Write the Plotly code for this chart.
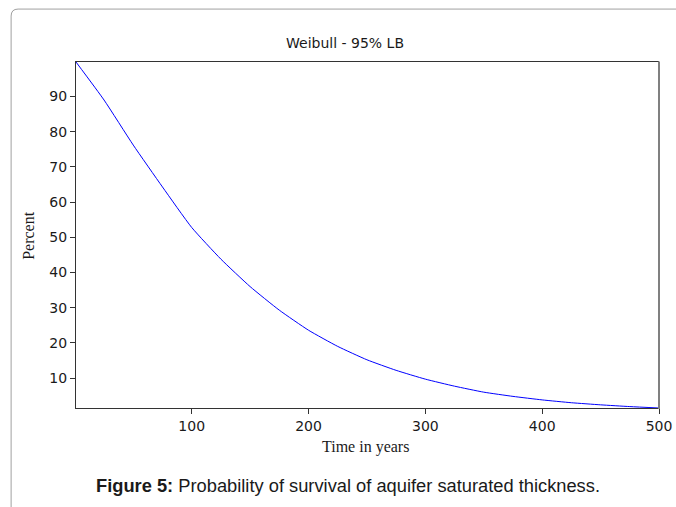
import plotly.graph_objects as go

# Data
years = [1, 25, 50, 75, 100, 125, 150, 175, 200, 225, 250, 275, 300,
         325, 350, 375, 400, 425, 450, 475, 500]
percent = [99.8, 89.0, 76.2, 64.3, 52.8, 43.8, 36.0, 29.3, 23.6, 19.0, 15.2,
           12.2, 9.7, 7.7, 6.0, 4.8, 3.8, 3.0, 2.4, 1.9, 1.5]
y_ticks = [10, 20, 30, 40, 50, 60, 70, 80, 90]
x_ticks = [100, 200, 300, 400, 500]

W, H = 676, 507
L, R, T, B = 75.5, 659.5, 61.5, 408.0
pw, ph = R - L, B - T


def px(x):
    return (x - L) / pw


def py(y):
    return (B - y) / ph


fig = go.Figure()
fig.add_trace(go.Scatter(
    x=years, y=percent, mode="lines",
    line=dict(color="#0000ff", width=1, shape="spline", smoothing=0.5),
    hoverinfo="skip", showlegend=False,
))

tick_font = dict(family="DejaVu Sans", size=14, color="#1a1a1a")

fig.update_layout(
    width=W, height=H,
    margin=dict(l=L, r=W - R, t=T, b=H - B, pad=0, autoexpand=False),
    paper_bgcolor="white", plot_bgcolor="white",
    showlegend=False,
    xaxis=dict(
        range=[1, 500], tickvals=x_ticks, ticktext=[str(v) for v in x_ticks],
        showgrid=False, zeroline=False, showline=True, linecolor="#333333",
        linewidth=1, mirror=True, ticks="outside", ticklen=5, tickcolor="#333333",
        tickfont=tick_font, automargin=False,
    ),
    yaxis=dict(
        range=[1.5, 99.8], tickvals=y_ticks, ticktext=[str(v) for v in y_ticks],
        showgrid=False, zeroline=False, showline=True, linecolor="#333333",
        linewidth=1, mirror=False, ticks="outside", ticklen=5, tickcolor="#333333",
        tickfont=tick_font, automargin=False,
    ),
)

# right border (gray, thicker)
fig.add_shape(type="line", xref="paper", yref="paper", x0=1, x1=1,
              y0=py(B + 1), y1=py(T - 0.5), line=dict(color="#808080", width=2))

# outer rounded frame (left & top edges)
fx, fy, rr = 10.5, 8.5, 7
path = (f"M {px(fx)},{py(H + 5)} L {px(fx)},{py(fy + rr)} "
        f"Q {px(fx)},{py(fy)} {px(fx + rr)},{py(fy)} L {px(W + 5)},{py(fy)}")
fig.add_shape(type="path", xref="paper", yref="paper", path=path,
              line=dict(color="#a0a0a0", width=1))

# title
fig.add_annotation(text="Weibull - 95% LB", xref="paper", yref="paper",
                   x=px(345), y=py(42), xanchor="center", yanchor="middle",
                   showarrow=False,
                   font=dict(family="DejaVu Sans", size=14, color="#1a1a1a"))
# axis titles
fig.add_annotation(text="Time in years", xref="paper", yref="paper",
                   x=px(365), y=py(447), xanchor="center", yanchor="middle",
                   showarrow=False,
                   font=dict(family="Liberation Serif", size=16, color="#1a1a1a"))
fig.add_annotation(text="Percent", xref="paper", yref="paper",
                   x=px(28), y=py(235), xanchor="center", yanchor="middle",
                   textangle=-90, showarrow=False,
                   font=dict(family="Liberation Serif", size=16, color="#1a1a1a"))
# caption
fig.add_annotation(text="<b>Figure 5:</b> Probability of survival of aquifer saturated thickness.",
                   xref="paper", yref="paper", x=px(348), y=py(486),
                   xanchor="center", yanchor="middle", showarrow=False,
                   font=dict(family="Liberation Sans", size=18.3, color="#1a1a1a"))

fig.write_html("out.html")
